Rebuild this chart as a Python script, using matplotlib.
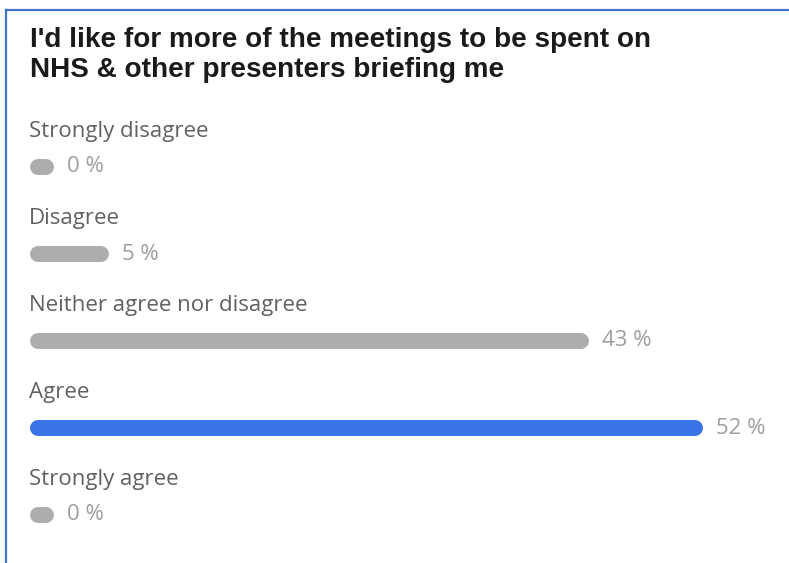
import matplotlib.pyplot as plt
from matplotlib.lines import Line2D

# data
title_lines = ["I'd like for more of the meetings to be spent on",
               "NHS & other presenters briefing me"]
categories = ['Strongly disagree', 'Disagree', 'Neither agree nor disagree',
              'Agree', 'Strongly agree']
percents = [0, 5, 43, 52, 0]
highlight = 'Agree'

W, H = 789, 563
fig = plt.figure(figsize=(W / 100, H / 100), dpi=100)
ax = fig.add_axes([0, 0, 1, 1])
ax.axis('off')

# x: percent scale, cap centre of bars at 38 px, 52 % ends at 695 px
px_per_pct = (695 - 38) / 52
ax.set_xlim(-38 / px_per_pct, (W - 38) / px_per_pct)
ax.set_ylim(H, 0)

def px(x):
    return (x - 38) / px_per_pct

# frame
fig.add_artist(Line2D([5.5 / W, 5.5 / W], [0, 1 - 10 / H], color='#4472C4', lw=1.6))
fig.add_artist(Line2D([5.5 / W, 1], [1 - 10 / H, 1 - 10 / H], color='#4472C4', lw=1.6))

# title, fitted to its width in the reference
t1 = ax.text(px(30), 47, title_lines[0], fontsize=17, fontweight='bold',
             family='Liberation Sans', color='#1a1a1a', va='baseline')
t2 = ax.text(px(30), 77, title_lines[1], fontsize=17, fontweight='bold',
             family='Liberation Sans', color='#1a1a1a', va='baseline')
fig.canvas.draw()
w1 = t1.get_window_extent().width
scale = 618 / w1
t1.set_fontsize(17 * scale)
t2.set_fontsize(17 * scale)

bar_lw = 16 * 0.72
for i, (cat, p) in enumerate(zip(categories, percents)):
    yb = 167 + i * 87
    ax.text(px(29), yb - 30, cat, fontsize=16, family='Open Sans',
            color='#616161', va='baseline')
    col = '#3873E8' if cat == highlight else '#ADADAD'
    end = max(p, 0.6)
    ax.plot([0, end], [yb, yb], color=col, lw=bar_lw, solid_capstyle='round')
    ax.text(end + 21 / px_per_pct, yb, f'{p} %', fontsize=16, family='Open Sans',
            color='#9E9E9E', va='center')

fig.savefig('out.png', dpi=100)
